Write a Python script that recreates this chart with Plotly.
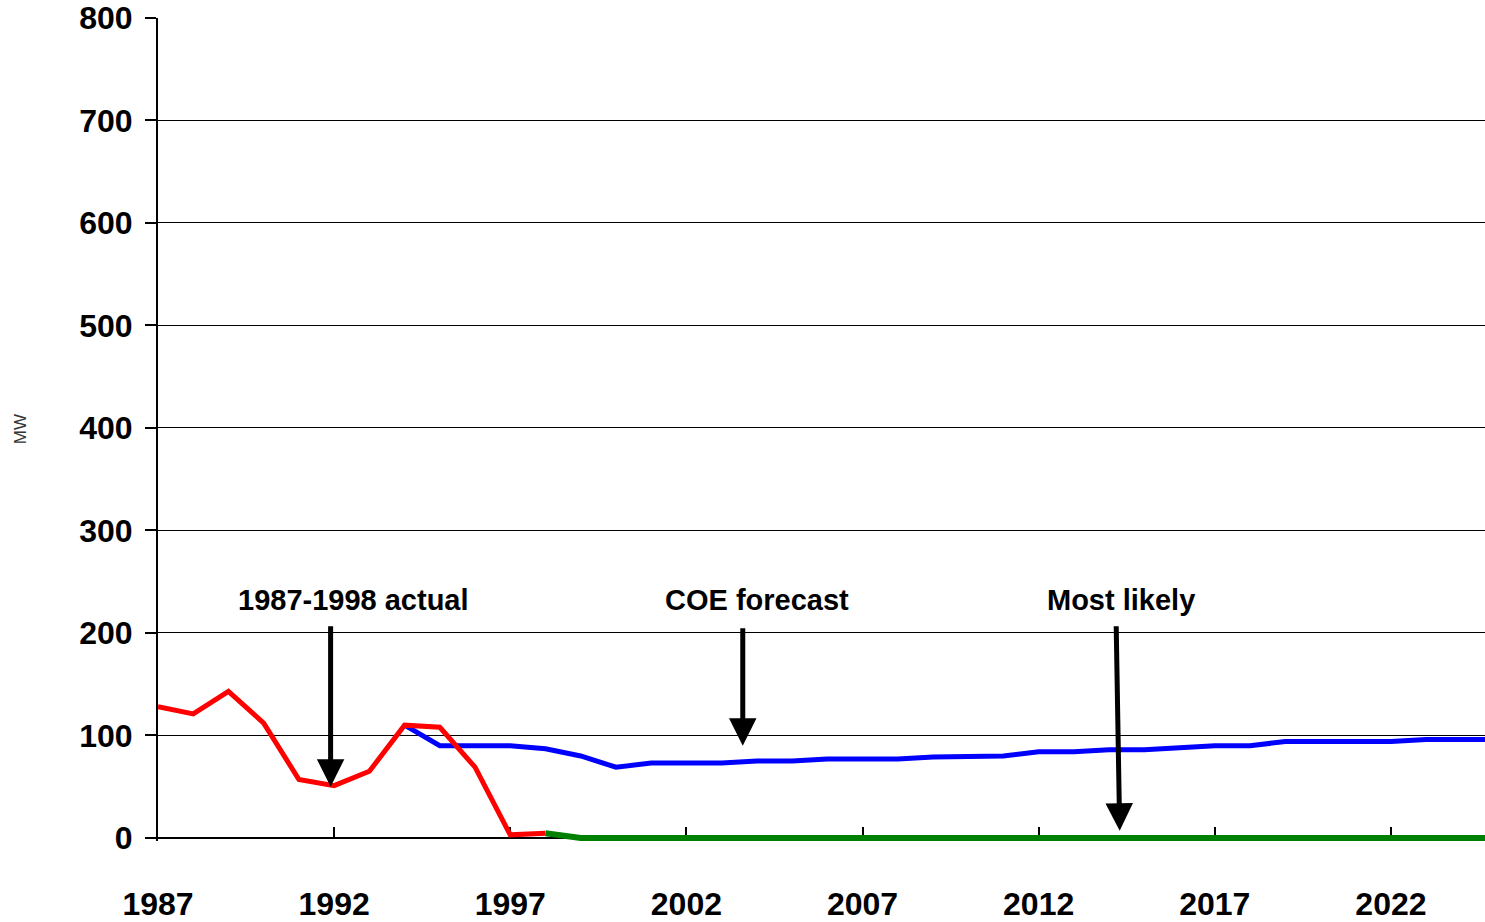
import plotly.graph_objects as go

# Actual values 1987-1998
actual_years = list(range(1987, 1999))
actual_vals = [128, 121, 143, 112, 57, 51, 65, 110, 108, 69, 3, 4.5]

# COE forecast 1994-2025
coe_years = list(range(1994, 2026))
coe_vals = [110, 90, 90, 90, 87, 80, 69, 73, 73, 73, 75, 75, 77, 77, 77, 79,
            80, 80, 84, 84, 86, 86, 88, 90, 90, 94, 94, 94, 94, 96, 96, 96]

# Most likely 1998-2025
likely_years = list(range(1998, 2026))
likely_vals = [4.5] + [0] * 27

# Arrow callouts: label, label position, arrow tail, arrow tip
callouts = [
    ("1987-1998 actual", 1992.55, 232, (1991.9, 208), (1991.9, 50)),
    ("COE forecast", 2004.0, 232, (2003.6, 206), (2003.6, 90)),
    ("Most likely", 2014.35, 232, (2014.2, 208), (2014.3, 7)),
]

FONT = "Liberation Sans, Arial, sans-serif"
Y_MIN = -3  # a little room below zero so the zero-level line is not clipped

fig = go.Figure()
fig.add_trace(go.Scatter(x=likely_years, y=likely_vals, mode="lines",
                         line=dict(color="#008000", width=6), name="Most likely"))
fig.add_trace(go.Scatter(x=coe_years, y=coe_vals, mode="lines",
                         line=dict(color="#0000FF", width=5), name="COE forecast"))
fig.add_trace(go.Scatter(x=actual_years, y=actual_vals, mode="lines",
                         line=dict(color="#FF0000", width=5), name="Actual"))

annotations = []
for label, lx, ly, (tx, ty), (hx, hy) in callouts:
    annotations.append(dict(x=lx, y=ly, xref="x", yref="y", text=label,
                            showarrow=False, xanchor="center", yanchor="middle",
                            font=dict(family=FONT, size=29, color="black", weight="bold")))
    annotations.append(dict(x=hx, y=hy, xref="x", yref="y",
                            ax=tx, ay=ty, axref="x", ayref="y",
                            showarrow=True, arrowhead=2, arrowsize=1.1,
                            arrowwidth=5, arrowcolor="black", text=""))

annotations.append(dict(x=-0.1035, y=0.5, xref="paper", yref="paper", text="MW",
                        textangle=-90, showarrow=False, xanchor="center", yanchor="middle",
                        font=dict(family=FONT, size=17, color="#333333")))

fig.update_layout(
    width=1485, height=922,
    margin=dict(l=158, r=0, t=18, b=81),
    paper_bgcolor="white", plot_bgcolor="white",
    showlegend=False,
    annotations=annotations,
    xaxis=dict(range=[1987, 2024.67], tick0=1987, dtick=5, showgrid=False,
               zeroline=False, showline=True, linecolor="black", linewidth=2,
               anchor="free", position=(0 - Y_MIN) / (800 - Y_MIN),
               layer="below traces",
               ticks="inside", ticklen=10, tickwidth=2, tickcolor="black",
               ticklabelstandoff=38,
               tickfont=dict(family=FONT, size=32, color="black", weight="bold")),
    yaxis=dict(range=[Y_MIN, 800], tick0=0, dtick=100, showgrid=True, gridcolor="black",
               gridwidth=1, zeroline=False, showline=True, linecolor="black",
               linewidth=2, ticks="outside", ticklen=11, tickwidth=2,
               tickcolor="black", ticklabelstandoff=6,
               tickfont=dict(family=FONT, size=32, color="black", weight="bold")),
)

fig.write_html("out.html")
